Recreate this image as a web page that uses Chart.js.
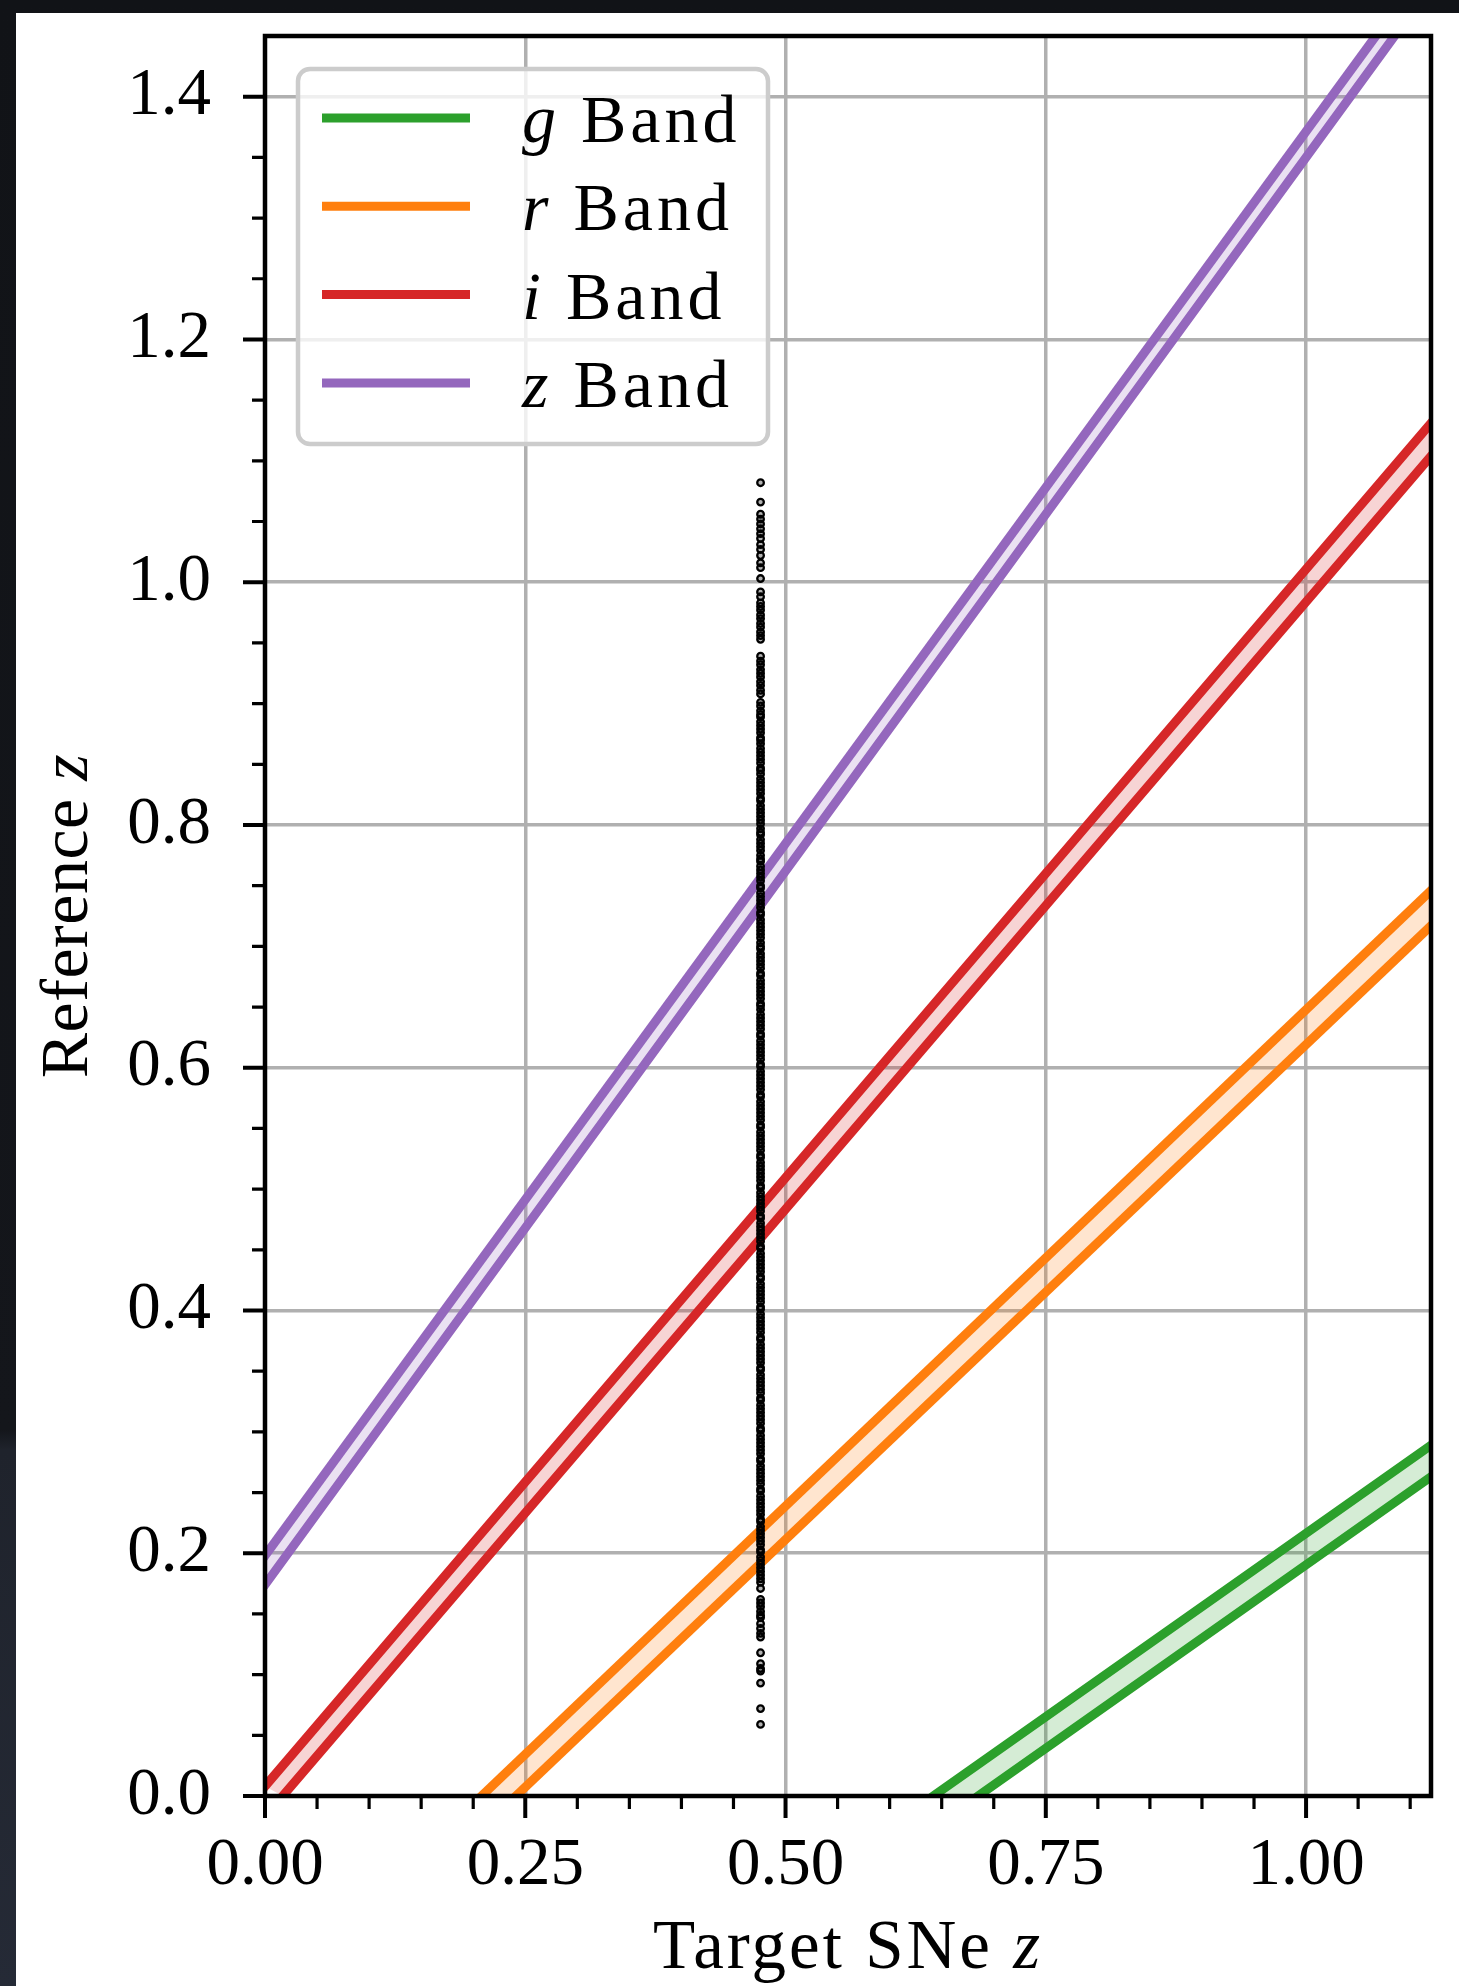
<!DOCTYPE html>
<html>
<head>
<meta charset="utf-8">
<title>Reference z vs Target SNe z</title>
<script src="https://cdn.jsdelivr.net/npm/chart.js@4.4.1/dist/chart.umd.min.js"></script>
<style>
  html, body { margin: 0; padding: 0; }
  body {
    width: 1459px;
    height: 1986px;
    overflow: hidden;
    background: linear-gradient(180deg, #111317 0%, #14161b 72%, #1f232c 73%, #252a36 100%);
  }
  #frame {
    position: absolute;
    left: 16px;
    top: 13px;
    width: 1443px;
    height: 1973px;
    background: #ffffff;
  }
  canvas { display: block; }
</style>
</head>
<body>
<div id="frame"><canvas id="chart" width="1443" height="1973"></canvas></div>
<script>
// Band edges as [target z, reference z] where each edge enters and leaves the axes
const gBandLow  = [[0.685, 0.0], [1.12, 0.263]];
const gBandHigh = [[0.642, 0.0], [1.12, 0.289]];
const rBandLow  = [[0.241, 0.0], [1.12, 0.717]];
const rBandHigh = [[0.208, 0.0], [1.12, 0.746]];
const iBandLow  = [[0.017, 0.0], [1.12, 1.104]];
const iBandHigh = [[0.0, 0.008], [1.12, 1.131]];
const zBandLow  = [[0.0, 0.174], [1.085, 1.45]];
const zBandHigh = [[0.0, 0.198], [1.067, 1.45]];

const bandNames = ['g', 'r', 'i', 'z'];

// Reference galaxy redshifts for the single target SN
const targetZ = 0.476;
const refZUpperTail = [
  1.082, 1.066, 1.056, 1.052, 1.048, 1.044, 1.040, 1.036, 1.031, 1.027, 1.022, 1.016, 1.012,
  1.003, 0.992, 0.988, 0.983, 0.980, 0.977, 0.973, 0.970, 0.966, 0.963, 0.959, 0.956, 0.953,
  0.939, 0.935, 0.932, 0.928, 0.925, 0.922, 0.918, 0.915, 0.911, 0.908
];
const refZCore = [
  0.901, 0.898, 0.894, 0.891, 0.889, 0.885, 0.882, 0.879, 0.876, 0.872, 0.870, 0.867, 0.863,
  0.860, 0.857, 0.854, 0.851, 0.847, 0.845, 0.842, 0.838, 0.835, 0.832, 0.829, 0.826, 0.822,
  0.820, 0.816, 0.813, 0.810, 0.807, 0.804, 0.801, 0.797, 0.794, 0.792, 0.788, 0.785, 0.782,
  0.779, 0.775, 0.772, 0.770, 0.766, 0.763, 0.760, 0.757, 0.754, 0.750, 0.748, 0.744, 0.741,
  0.738, 0.735, 0.732, 0.728, 0.726, 0.722, 0.719, 0.716, 0.713, 0.710, 0.707, 0.703, 0.700,
  0.698, 0.694, 0.691, 0.688, 0.685, 0.682, 0.678, 0.676, 0.672, 0.669, 0.666, 0.663, 0.660,
  0.657, 0.653, 0.651, 0.648, 0.644, 0.641, 0.638, 0.635, 0.632, 0.628, 0.626, 0.622, 0.619,
  0.616, 0.613, 0.610, 0.607, 0.603, 0.601, 0.597, 0.594, 0.591, 0.588, 0.585, 0.582, 0.578,
  0.576, 0.572, 0.569, 0.566, 0.563, 0.560, 0.557, 0.553, 0.551, 0.547, 0.544, 0.541, 0.538,
  0.535, 0.532, 0.528, 0.526, 0.522, 0.519, 0.516, 0.513, 0.510, 0.507, 0.503, 0.501, 0.497,
  0.494, 0.491, 0.488, 0.485, 0.482, 0.478, 0.476, 0.472, 0.469, 0.466, 0.463, 0.460, 0.457,
  0.453, 0.451, 0.447, 0.444, 0.441, 0.438, 0.435, 0.432, 0.428, 0.426, 0.422, 0.419, 0.416,
  0.413, 0.410, 0.407, 0.403, 0.401, 0.397, 0.394, 0.391, 0.388, 0.385, 0.382, 0.378, 0.376,
  0.372, 0.369, 0.366, 0.363, 0.360, 0.357, 0.353, 0.351, 0.347, 0.344, 0.341, 0.338, 0.335,
  0.332, 0.328, 0.326, 0.322, 0.319, 0.316, 0.313, 0.310, 0.307, 0.303, 0.301, 0.297, 0.294,
  0.291, 0.288, 0.285, 0.282, 0.278, 0.276, 0.272, 0.269, 0.266, 0.263, 0.260, 0.257, 0.253,
  0.251, 0.247, 0.244, 0.241, 0.238, 0.235, 0.232, 0.228, 0.226, 0.222, 0.219, 0.216, 0.213,
  0.210, 0.207, 0.203, 0.201, 0.197, 0.194, 0.191, 0.188, 0.185, 0.182, 0.179, 0.176
];
const refZLowerTail = [
  0.171, 0.162, 0.159, 0.156, 0.152, 0.149, 0.147, 0.142, 0.138, 0.134, 0.131,
  0.118, 0.109, 0.105, 0.103, 0.093, 0.072, 0.059
];

// Axis ticks
const xMajorTicks = [0.0, 0.25, 0.5, 0.75, 1.0];
const xMinorTicks = [0.05, 0.1, 0.15, 0.2, 0.3, 0.35, 0.4, 0.45, 0.55, 0.6, 0.65, 0.7,
                     0.8, 0.85, 0.9, 0.95, 1.05, 1.1];
const yMajorTicks = [0.0, 0.2, 0.4, 0.6, 0.8, 1.0, 1.2, 1.4];
const yMinorTicks = [0.05, 0.1, 0.15, 0.25, 0.3, 0.35, 0.45, 0.5, 0.55, 0.65, 0.7, 0.75,
                     0.85, 0.9, 0.95, 1.05, 1.1, 1.15, 1.25, 1.3, 1.35];

const bandEdges = [
  [gBandLow, gBandHigh],
  [rBandLow, rBandHigh],
  [iBandLow, iBandHigh],
  [zBandLow, zBandHigh],
];
const bandColors = ['#2ca02c', '#ff7f0e', '#d62728', '#9467bd'];
const bandFills = ['rgba(44,160,44,0.2)', 'rgba(255,127,14,0.2)', 'rgba(214,39,40,0.2)', 'rgba(148,103,189,0.2)'];

const SERIF = '"Liberation Serif", "Times New Roman", serif';

function toPoints(arr) {
  return arr.map(p => ({ x: p[0], y: p[1] }));
}

const datasets = [{
  type: 'scatter',
  data: refZUpperTail.concat(refZCore, refZLowerTail).map(v => ({ x: targetZ, y: v })),
  pointRadius: 3.3,
  pointBorderWidth: 2.3,
  pointBorderColor: '#000000',
  pointBackgroundColor: 'rgba(0,0,0,0.3)',
  order: 0,
  clip: false,
}];

bandEdges.forEach(([low, high], k) => {
  const lo = toPoints(low);
  const hi = toPoints(high);
  // shaded strip between the two edges
  datasets.push({
    type: 'line',
    data: hi.concat(lo.slice().reverse()),
    fill: 'shape',
    backgroundColor: bandFills[k],
    borderColor: 'rgba(0,0,0,0)',
    borderWidth: 0,
    pointRadius: 0,
    order: 2,
    clip: 0,
  });
  [hi, lo].forEach(edge => {
    datasets.push({
      type: 'line',
      data: edge,
      fill: false,
      borderColor: bandColors[k],
      borderWidth: 9,
      borderCapStyle: 'square',
      pointRadius: 0,
      order: 1,
      clip: 0,
    });
  });
});

function runsWidth(ctx, runs, size, spacing) {
  let w = 0;
  runs.forEach(([text, italic]) => {
    ctx.font = (italic ? 'italic ' : '') + size + 'px ' + SERIF;
    ctx.letterSpacing = spacing + 'px';
    w += ctx.measureText(text).width;
  });
  return w;
}

function drawRuns(ctx, runs, x, y, size, spacing) {
  let cx = x;
  runs.forEach(([text, italic]) => {
    ctx.font = (italic ? 'italic ' : '') + size + 'px ' + SERIF;
    ctx.letterSpacing = spacing + 'px';
    ctx.fillText(text, cx, y);
    cx += ctx.measureText(text).width;
  });
}

// keep label overhang from shrinking the plot area
function noLabelPadding(s) {
  s.paddingTop = 0;
  s.paddingBottom = 0;
  s.paddingLeft = 0;
  s.paddingRight = 0;
}

// frame, outward ticks, legend and axis titles
const decorations = {
  id: 'decorations',
  afterDatasetsDraw(chart) {
    const { ctx, chartArea: a, scales: { x, y } } = chart;
    ctx.save();
    ctx.strokeStyle = '#000000';
    ctx.lineCap = 'butt';

    ctx.lineWidth = 4;
    ctx.beginPath();
    xMajorTicks.forEach(v => {
      const px = x.getPixelForValue(v);
      ctx.moveTo(px, a.bottom);
      ctx.lineTo(px, a.bottom + 22);
    });
    yMajorTicks.forEach(v => {
      const py = y.getPixelForValue(v);
      ctx.moveTo(a.left, py);
      ctx.lineTo(a.left - 22, py);
    });
    ctx.stroke();

    ctx.lineWidth = 3.2;
    ctx.beginPath();
    xMinorTicks.forEach(v => {
      const px = x.getPixelForValue(v);
      ctx.moveTo(px, a.bottom);
      ctx.lineTo(px, a.bottom + 13);
    });
    yMinorTicks.forEach(v => {
      const py = y.getPixelForValue(v);
      ctx.moveTo(a.left, py);
      ctx.lineTo(a.left - 13, py);
    });
    ctx.stroke();

    ctx.lineWidth = 4.5;
    ctx.strokeRect(a.left, a.top, a.right - a.left, a.bottom - a.top);

    // legend
    const lx = a.left + 33, ly = a.top + 33, lw = 470, lh = 375;
    ctx.beginPath();
    ctx.roundRect(lx, ly, lw, lh, 12);
    ctx.fillStyle = 'rgba(255,255,255,0.8)';
    ctx.fill();
    ctx.strokeStyle = '#cccccc';
    ctx.lineWidth = 4.5;
    ctx.stroke();

    ctx.fillStyle = '#000000';
    ctx.textBaseline = 'alphabetic';
    ctx.textAlign = 'left';
    bandNames.forEach((name, k) => {
      const rowY = ly + 49 + k * 88.3;
      ctx.strokeStyle = bandColors[k];
      ctx.lineWidth = 9;
      ctx.beginPath();
      ctx.moveTo(lx + 24, rowY);
      ctx.lineTo(lx + 172, rowY);
      ctx.stroke();
      drawRuns(ctx, [[name, true], [' Band', false]], lx + 224, rowY + 24, 68, 4);
    });

    // axis titles
    const xTitle = [['Target SNe ', false], ['z', true]];
    const xw = runsWidth(ctx, xTitle, 69, 3);
    drawRuns(ctx, xTitle, (a.left + a.right) / 2 - xw / 2, a.bottom + 172, 69, 3);

    const yTitle = [['Reference ', false], ['z', true]];
    const yw = runsWidth(ctx, yTitle, 68, 0.5);
    ctx.translate(71, (a.top + a.bottom) / 2);
    ctx.rotate(-Math.PI / 2);
    drawRuns(ctx, yTitle, -yw / 2, 0, 68, 0.5);

    ctx.restore();
  }
};

new Chart(document.getElementById('chart'), {
  type: 'scatter',
  data: { datasets },
  options: {
    responsive: false,
    devicePixelRatio: 1,
    animation: false,
    layout: { padding: { left: 0, top: 23, right: 28, bottom: 0 } },
    plugins: {
      legend: { display: false },
      tooltip: { enabled: false },
    },
    scales: {
      x: {
        type: 'linear',
        min: 0,
        max: 1.12,
        afterFit: s => { s.height = 190; noLabelPadding(s); },
        border: { display: false },
        grid: { color: '#b0b0b0', lineWidth: 3.5, drawTicks: false },
        afterBuildTicks: s => { s.ticks = xMajorTicks.map(v => ({ value: v })); },
        ticks: {
          padding: 30,
          color: '#000000',
          font: { family: SERIF, size: 67 },
          maxRotation: 0,
          autoSkip: false,
          callback: v => v.toFixed(2),
        },
      },
      y: {
        type: 'linear',
        min: 0,
        max: 1.45,
        afterFit: s => { s.width = 249; noLabelPadding(s); },
        border: { display: false },
        grid: { color: '#b0b0b0', lineWidth: 3.5, drawTicks: false },
        afterBuildTicks: s => { s.ticks = yMajorTicks.map(v => ({ value: v })); },
        ticks: {
          padding: 54,
          color: '#000000',
          font: { family: SERIF, size: 67 },
          autoSkip: false,
          callback: v => v.toFixed(1),
        },
      },
    },
  },
  plugins: [decorations],
});
</script>
</body>
</html>
